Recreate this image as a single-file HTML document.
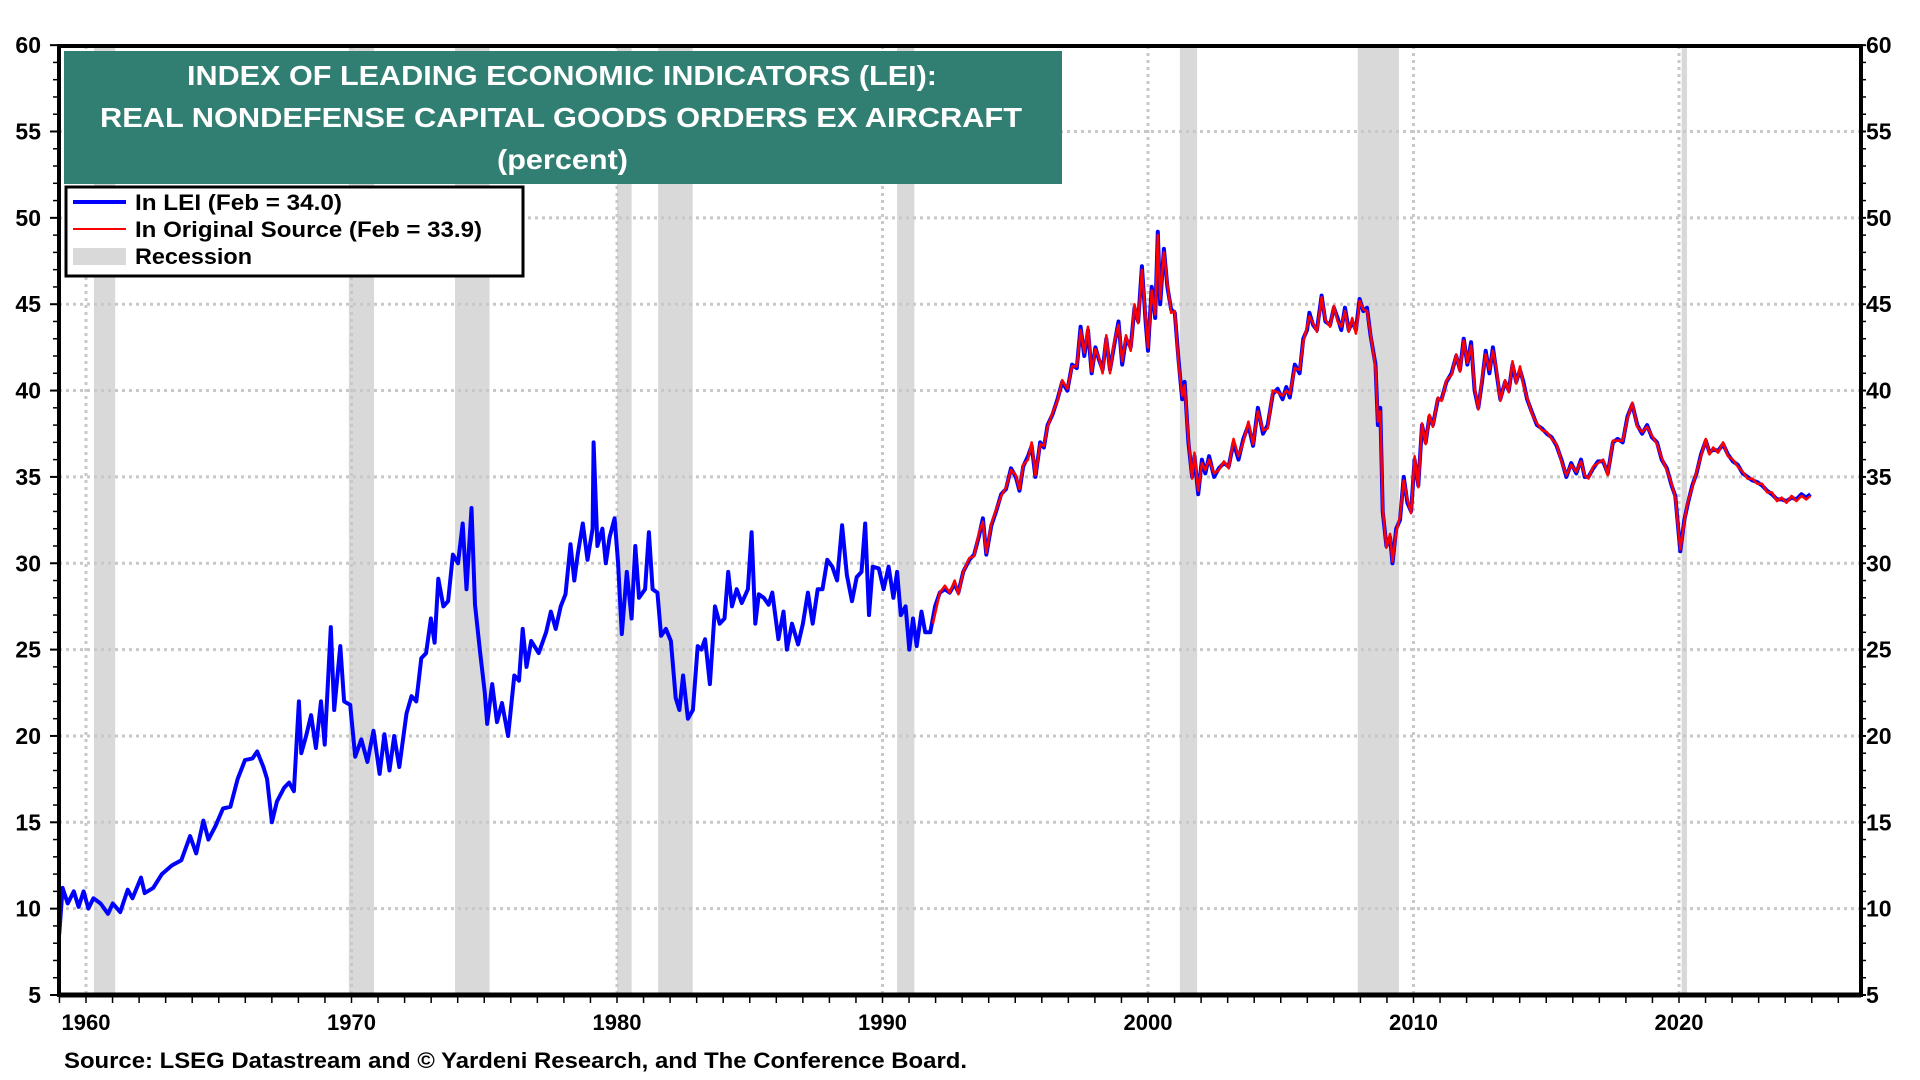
<!DOCTYPE html>
<html><head><meta charset="utf-8"><style>
html,body{margin:0;padding:0;background:#fff;}
svg{display:block;font-family:"Liberation Sans",sans-serif;font-weight:bold;}
</style></head><body>
<svg id="chart" width="1920" height="1080" viewBox="0 0 1920 1080" xmlns="http://www.w3.org/2000/svg">
<g id="rec"></g>
<g id="grid"></g>
<g id="series"></g>
<g id="axes"></g>
<g>
<rect x="64" y="51" width="998" height="133" fill="#317f72"/>
<text x="187" y="85" textLength="750" lengthAdjust="spacingAndGlyphs" fill="#fff" font-size="28">INDEX OF LEADING ECONOMIC INDICATORS (LEI):</text>
<text x="100" y="127" textLength="922" lengthAdjust="spacingAndGlyphs" fill="#fff" font-size="28">REAL NONDEFENSE CAPITAL GOODS ORDERS EX AIRCRAFT</text>
<text x="497" y="169" textLength="131" lengthAdjust="spacingAndGlyphs" fill="#fff" font-size="28">(percent)</text>
</g>
<g>
<rect x="66" y="187" width="457" height="89" fill="#fff" stroke="#000" stroke-width="3"/>
<line x1="73" y1="202" x2="126" y2="202" stroke="#0000ff" stroke-width="4"/>
<text x="135" y="210" textLength="207" lengthAdjust="spacingAndGlyphs" font-size="22">In LEI (Feb = 34.0)</text>
<line x1="73" y1="229" x2="126" y2="229" stroke="#ff0000" stroke-width="2"/>
<text x="135" y="237" textLength="347" lengthAdjust="spacingAndGlyphs" font-size="22">In Original Source (Feb = 33.9)</text>
<rect x="73" y="248" width="53" height="17" fill="#d9d9d9"/>
<text x="135" y="264" textLength="117" lengthAdjust="spacingAndGlyphs" font-size="22">Recession</text>
</g>
<text x="64" y="1068" textLength="903" lengthAdjust="spacingAndGlyphs" font-size="22">Source: LSEG Datastream and © Yardeni Research, and The Conference Board.</text>
</svg>
<script>
const recStart=[1960.3,1969.9,1973.9,1980.0,1981.55,1990.55,2001.2,2007.9,2020.1];
const recEnd=[1961.1,1970.85,1975.2,1980.55,1982.85,1991.2,2001.85,2009.45,2020.3];
const yTicks=[5,10,15,20,25,30,35,40,45,50,55,60];
const xTicks=[1960,1970,1980,1990,2000,2010,2020];
const leiYears=[1958.99,1959.12,1959.31,1959.54,1959.72,1959.91,1960.09,1960.28,1960.55,1960.83,1961.01,1961.29,1961.57,1961.75,1962.07,1962.21,1962.53,1962.86,1963.23,1963.59,1963.92,1964.15,1964.42,1964.61,1964.88,1965.16,1965.44,1965.71,1965.99,1966.27,1966.45,1966.68,1966.82,1967.00,1967.19,1967.46,1967.65,1967.83,1968.02,1968.11,1968.29,1968.48,1968.66,1968.85,1968.99,1969.22,1969.35,1969.58,1969.72,1969.95,1970.14,1970.37,1970.60,1970.83,1971.06,1971.24,1971.43,1971.61,1971.80,1972.07,1972.26,1972.44,1972.63,1972.81,1972.99,1973.13,1973.27,1973.46,1973.64,1973.82,1974.01,1974.19,1974.33,1974.52,1974.65,1974.84,1975.02,1975.11,1975.30,1975.48,1975.67,1975.90,1976.13,1976.31,1976.45,1976.59,1976.77,1977.05,1977.33,1977.51,1977.69,1977.88,1978.06,1978.25,1978.39,1978.52,1978.71,1978.89,1979.08,1979.12,1979.26,1979.45,1979.58,1979.72,1979.91,1980.04,1980.18,1980.37,1980.55,1980.69,1980.83,1981.06,1981.20,1981.34,1981.52,1981.66,1981.84,1982.03,1982.21,1982.35,1982.49,1982.67,1982.86,1983.04,1983.18,1983.32,1983.50,1983.69,1983.87,1984.05,1984.19,1984.33,1984.51,1984.70,1984.93,1985.07,1985.21,1985.34,1985.53,1985.71,1985.85,1986.08,1986.27,1986.40,1986.59,1986.82,1987.00,1987.19,1987.37,1987.56,1987.74,1987.92,1988.11,1988.29,1988.48,1988.66,1988.85,1989.03,1989.21,1989.35,1989.49,1989.63,1989.86,1990.04,1990.23,1990.41,1990.55,1990.69,1990.87,1991.01,1991.15,1991.29,1991.47,1991.61,1991.80,1991.98,1992.16,1992.35,1992.53,1992.72,1992.86,1993.04,1993.27,1993.45,1993.64,1993.78,1993.91,1994.10,1994.28,1994.47,1994.65,1994.84,1995.02,1995.16,1995.30,1995.48,1995.62,1995.76,1995.94,1996.08,1996.22,1996.40,1996.59,1996.77,1996.96,1997.14,1997.32,1997.46,1997.60,1997.74,1997.88,1998.02,1998.15,1998.29,1998.43,1998.57,1998.71,1998.89,1999.03,1999.17,1999.35,1999.49,1999.63,1999.77,1999.91,2000.00,2000.14,2000.27,2000.37,2000.46,2000.60,2000.73,2000.87,2001.01,2001.15,2001.29,2001.38,2001.52,2001.66,2001.75,2001.89,2002.03,2002.16,2002.30,2002.49,2002.67,2002.86,2003.04,2003.22,2003.41,2003.59,2003.78,2003.96,2004.14,2004.33,2004.51,2004.70,2004.88,2005.07,2005.21,2005.34,2005.53,2005.71,2005.85,2005.99,2006.08,2006.22,2006.36,2006.54,2006.68,2006.86,2007.00,2007.14,2007.28,2007.42,2007.56,2007.69,2007.83,2007.97,2008.11,2008.25,2008.38,2008.57,2008.66,2008.75,2008.84,2008.98,2009.12,2009.21,2009.35,2009.49,2009.63,2009.77,2009.91,2010.04,2010.18,2010.32,2010.46,2010.60,2010.73,2010.92,2011.06,2011.24,2011.43,2011.61,2011.75,2011.89,2012.03,2012.17,2012.30,2012.44,2012.58,2012.72,2012.86,2012.99,2013.13,2013.27,2013.45,2013.59,2013.73,2013.87,2014.01,2014.14,2014.28,2014.47,2014.65,2014.84,2015.02,2015.20,2015.39,2015.57,2015.76,2015.94,2016.13,2016.31,2016.45,2016.59,2016.77,2016.95,2017.14,2017.32,2017.51,2017.69,2017.88,2018.06,2018.24,2018.43,2018.61,2018.80,2018.98,2019.17,2019.35,2019.54,2019.72,2019.86,2020.05,2020.20,2020.34,2020.50,2020.66,2020.83,2021.01,2021.15,2021.29,2021.47,2021.66,2021.84,2022.03,2022.21,2022.40,2022.58,2022.76,2022.95,2023.13,2023.32,2023.50,2023.69,2023.87,2024.05,2024.24,2024.42,2024.61,2024.79,2024.95];
const leiValues=[8.5,11.2,10.3,11.0,10.1,11.0,10.0,10.6,10.3,9.7,10.3,9.8,11.1,10.6,11.8,10.9,11.2,12.0,12.5,12.8,14.2,13.2,15.1,14.0,14.8,15.8,15.9,17.5,18.6,18.7,19.1,18.2,17.5,15.0,16.2,17.0,17.3,16.8,22.0,19.0,20.0,21.2,19.3,22.0,19.5,26.3,21.5,25.2,22.0,21.8,18.8,19.8,18.5,20.3,17.8,20.1,18.0,20.0,18.2,21.3,22.3,22.0,24.5,24.8,26.8,25.4,29.1,27.5,27.8,30.5,30.0,32.3,28.5,33.2,27.6,24.9,22.5,20.7,23.0,20.8,21.9,20.0,23.5,23.2,26.2,24.0,25.5,24.8,26.0,27.2,26.2,27.5,28.2,31.1,29.0,30.5,32.3,30.2,32.0,37.0,31.0,32.0,30.0,31.5,32.6,30.0,25.9,29.5,26.8,31.0,28.0,28.5,31.8,28.5,28.3,25.8,26.2,25.5,22.2,21.5,23.5,21.0,21.5,25.2,25.0,25.6,23.0,27.5,26.5,26.8,29.5,27.5,28.5,27.7,28.5,31.8,26.5,28.2,28.0,27.6,28.3,25.6,27.2,25.0,26.5,25.3,26.5,28.3,26.5,28.5,28.5,30.2,29.8,29.0,32.2,29.3,27.8,29.2,29.5,32.3,27.0,29.8,29.7,28.5,29.8,28.0,29.5,27.0,27.5,25.0,26.8,25.2,27.2,26.0,26.0,27.5,28.3,28.5,28.3,28.8,28.3,29.5,30.2,30.5,31.6,32.6,30.5,32.2,33.0,34.0,34.3,35.5,35.0,34.2,35.6,36.2,36.8,35.0,37.0,36.7,38.0,38.6,39.5,40.5,40.0,41.5,41.3,43.7,42.0,43.5,41.0,42.5,41.8,41.2,43.0,41.2,42.5,44.0,41.5,43.0,42.5,44.8,44.0,47.2,44.0,42.3,46.0,44.2,49.2,45.0,48.2,46.0,44.7,44.5,41.8,39.5,40.5,37.0,35.0,36.2,34.0,36.0,35.2,36.2,35.0,35.5,35.8,35.6,37.0,36.0,37.2,38.0,36.8,39.0,37.5,38.0,39.8,40.1,39.5,40.2,39.6,41.5,41.0,43.0,43.5,44.5,43.8,43.5,45.5,44.0,43.8,44.8,44.2,43.5,44.8,43.5,44.0,43.5,45.3,44.6,44.8,43.2,41.5,38.0,39.0,33.0,31.0,31.5,30.0,32.0,32.5,35.0,33.5,33.0,36.0,34.5,38.0,37.0,38.5,38.0,39.5,39.5,40.5,41.0,42.0,41.2,43.0,41.5,42.8,40.0,39.0,40.5,42.3,41.0,42.5,41.0,39.5,40.5,40.0,41.5,40.5,41.2,40.5,39.5,38.7,38.0,37.8,37.5,37.3,36.8,36.0,35.0,35.8,35.2,36.0,35.0,35.0,35.5,35.9,35.9,35.2,37.0,37.2,37.0,38.5,39.2,38.0,37.5,38.0,37.3,37.0,36.0,35.5,34.5,33.9,30.7,32.5,33.5,34.5,35.2,36.3,37.1,36.4,36.6,36.5,36.9,36.3,35.9,35.7,35.2,35.0,34.8,34.7,34.5,34.2,34.0,33.7,33.7,33.6,33.8,33.7,34.0,33.8,34.0];
const origStartYear=1991.9;
const origValues=[26.5,28.3,28.7,28.3,29.0,28.2,29.5,30.3,30.4,31.8,32.4,30.6,32.3,33.1,33.9,34.4,35.4,35.1,34.3,35.7,36.0,37.0,35.1,36.9,36.8,37.9,38.7,39.4,40.6,40.1,41.4,41.4,43.5,42.2,43.7,41.1,42.4,41.9,41.0,43.2,41.0,42.7,43.8,41.7,43.2,42.3,45.0,43.9,47.0,44.2,42.5,45.8,44.4,49.0,45.3,48.0,46.2,44.5,44.6,41.6,39.7,40.3,37.2,34.9,36.4,34.2,35.8,35.4,36.0,35.2,35.4,35.9,35.5,37.2,36.2,37.0,38.2,36.9,38.8,37.7,37.8,40.0,39.9,39.7,40.0,39.8,41.3,41.2,42.8,43.7,44.3,43.9,43.4,45.4,44.1,43.7,44.9,44.0,43.7,44.6,43.4,44.2,43.3,45.2,44.7,44.6,43.3,41.3,38.2,38.8,33.2,30.9,31.7,30.1,31.8,32.7,34.8,33.7,32.9,36.2,34.4,38.1,36.9,38.6,37.9,39.6,39.4,40.6,40.9,42.1,41.1,42.9,41.6,42.6,40.2,38.9,40.7,42.1,41.2,42.3,41.2,39.4,40.6,39.9,41.7,40.4,41.4,40.3,39.6,38.6,38.1,37.7,37.6,37.2,36.9,35.9,35.1,35.7,35.3,35.9,35.1,34.9,35.6,35.8,36.0,35.1,37.1,37.1,37.1,38.4,39.3,37.9,37.6,37.9,37.4,36.9,36.1,35.4,34.6,33.8,30.8,32.4,33.6,34.4,35.3,36.2,37.2,36.3,36.7,36.4,37.0,36.2,36.0,35.6,35.3,34.9,34.9,34.6,34.6,34.1,34.1,33.6,33.8,33.5,33.9,33.6,33.9,33.7,33.9];

const NS='http://www.w3.org/2000/svg';
const X0=86, PXYR=26.55, Y0=995, PXV=17.27;
const L=59, R=1861, T=46, B=995;
function xs(yr){return X0+(yr-1960)*PXYR;}
function ys(v){return Y0-(v-5)*PXV;}
function mk(tag,attrs,parent){const e=document.createElementNS(NS,tag);for(const k in attrs)e.setAttribute(k,attrs[k]);parent.appendChild(e);return e;}
const rec=document.getElementById('rec'),grid=document.getElementById('grid'),series=document.getElementById('series'),axes=document.getElementById('axes');
recStart.forEach((s,i)=>{const r=mk('rect',{x:xs(s),y:T,width:xs(recEnd[i])-xs(s),height:B-T,fill:'#d9d9d9'},rec);

});
yTicks.forEach(v=>{if(v>5&&v<60){const l=mk('line',{x1:L,x2:R,y1:ys(v),y2:ys(v),stroke:'#c8c8c8','stroke-width':3,'stroke-dasharray':'3 4'},grid);

}
const tl=mk('text',{x:41,y:ys(v)+8,'text-anchor':'end','font-size':23},axes);tl.textContent=v;


const tr=mk('text',{x:1866,y:ys(v)+8,'text-anchor':'start','font-size':23},axes);tr.textContent=v;


mk('line',{x1:L-9,x2:L,y1:ys(v),y2:ys(v),stroke:'#000','stroke-width':2},axes);
mk('line',{x1:R,x2:R+5,y1:ys(v),y2:ys(v),stroke:'#000','stroke-width':2},axes);});
for(let v=6;v<60;v++){if(v%5){mk('line',{x1:L-6,x2:L,y1:ys(v),y2:ys(v),stroke:'#000','stroke-width':1.5},axes);mk('line',{x1:R,x2:R+5,y1:ys(v),y2:ys(v),stroke:'#000','stroke-width':1.5},axes);}}
xTicks.forEach(yr=>{const l=mk('line',{x1:xs(yr),x2:xs(yr),y1:T,y2:B,stroke:'#c8c8c8','stroke-width':3,'stroke-dasharray':'3 4'},grid);


const t=mk('text',{x:xs(yr),y:1030,'text-anchor':'middle','font-size':22},axes);t.textContent=yr;

});
for(let yr=1959;yr<=2026;yr++){mk('line',{x1:xs(yr),x2:xs(yr),y1:B,y2:B+8,stroke:'#000','stroke-width':1.5},axes);}
function pathD(xsArr,vals){return vals.map((v,i)=>(i?'L':'M')+xs(xsArr[i]).toFixed(1)+' '+ys(v).toFixed(1)).join(' ');}
const blue=mk('path',{d:pathD(leiYears,leiValues),fill:'none',stroke:'#0000ff','stroke-width':4,'stroke-linejoin':'round'},series);


const startIdx=leiYears.findIndex(y=>y>=1992.16);
const origYears=[origStartYear].concat(leiYears.slice(startIdx));
const red=mk('path',{d:pathD(origYears.slice(0,origValues.length),origValues),fill:'none',stroke:'#ff0000','stroke-width':2.5,'stroke-linejoin':'round'},series);


mk('line',{x1:L,x2:R,y1:T,y2:T,stroke:'#000','stroke-width':4},axes);
mk('line',{x1:L,x2:R,y1:B,y2:B,stroke:'#000','stroke-width':5},axes);
mk('line',{x1:L,x2:L,y1:T-2,y2:B+2,stroke:'#000','stroke-width':4},axes);
mk('line',{x1:R,x2:R,y1:T-2,y2:B+2,stroke:'#000','stroke-width':4},axes);
</script>
</body></html>
